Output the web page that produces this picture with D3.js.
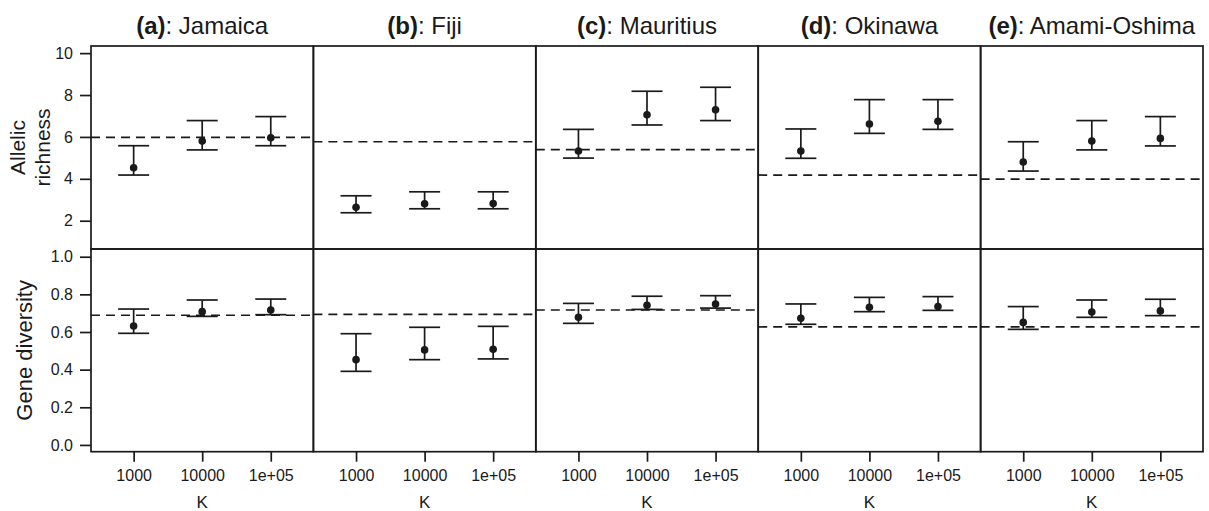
<!DOCTYPE html>
<html>
<head>
<meta charset="utf-8">
<script src="https://cdn.jsdelivr.net/npm/d3@7"></script>
<style>
  body { margin: 0; background: #fff; }
  text { font-family: "Liberation Sans", Arial, sans-serif; fill: #1a1a1a; }
</style>
</head>
<body>
<div id="chart"></div>
<script>
// panels and K levels
const letters = ["a", "b", "c", "d", "e"];
const islands = ["Jamaica", "Fiji", "Mauritius", "Okinawa", "Amami-Oshima"];
const kLevels = ["1000", "10000", "1e+05"];

// allelic richness: estimate, lower, upper, observed (dashed)
const arMean = [[4.53, 5.80, 5.96], [2.64, 2.81, 2.82], [5.33, 7.06, 7.30], [5.33, 6.62, 6.75], [4.80, 5.80, 5.93]];
const arLow  = [[4.18, 5.38, 5.58], [2.38, 2.57, 2.57], [4.99, 6.57, 6.78], [4.98, 6.17, 6.36], [4.37, 5.38, 5.57]];
const arHigh = [[5.58, 6.78, 6.97], [3.19, 3.38, 3.38], [6.36, 8.18, 8.37], [6.38, 7.78, 7.78], [5.77, 6.78, 6.97]];
const arObs  = [5.98, 5.77, 5.39, 4.18, 3.99];

// gene diversity: estimate, lower, upper, observed (dashed)
const gdMean = [[0.632, 0.708, 0.717], [0.453, 0.505, 0.508], [0.678, 0.742, 0.749], [0.673, 0.731, 0.735], [0.651, 0.706, 0.712]];
const gdLow  = [[0.593, 0.683, 0.692], [0.391, 0.453, 0.457], [0.646, 0.720, 0.727], [0.641, 0.708, 0.715], [0.614, 0.678, 0.687]];
const gdHigh = [[0.722, 0.770, 0.775], [0.591, 0.625, 0.630], [0.752, 0.790, 0.793], [0.749, 0.784, 0.788], [0.735, 0.770, 0.774]];
const gdObs  = [0.689, 0.694, 0.717, 0.627, 0.627];

const arTicks = [2, 4, 6, 8, 10];
const gdTicks = [0, 0.2, 0.4, 0.6, 0.8, 1.0];

const width = 1209, height = 511;
const plotLeft = 91, plotRight = 1203, plotTop = 46, plotMid = 249, plotBottom = 451.7;
const ink = "#1a1a1a";

const svg = d3.select("#chart").append("svg")
    .attr("width", width)
    .attr("height", height)
    .attr("viewBox", [0, 0, width, height]);

const panelX = d3.scaleBand(d3.range(islands.length), [plotLeft, plotRight]);
const pw = panelX.bandwidth();
const kX = d3.scalePoint(kLevels, [0, pw]).padding(0.622);

const yAR = d3.scaleLinear([0.65, 10.34], [plotMid, plotTop]);
const yGD = d3.scaleLinear([-0.036, 1.041], [plotBottom, plotMid]);

const rows = [
  {y: yAR, mean: arMean, low: arLow, high: arHigh, obs: arObs},
  {y: yGD, mean: gdMean, low: gdLow, high: gdHigh, obs: gdObs}
];

const capHalf = 15.5;

islands.forEach((name, p) => {
  const g = svg.append("g").attr("transform", `translate(${panelX(p)},0)`);

  rows.forEach(r => {
    const [y0, y1] = r.y.range();
    // observed value
    g.append("line")
      .attr("x1", 0).attr("x2", pw)
      .attr("y1", r.y(r.obs[p])).attr("y2", r.y(r.obs[p]))
      .attr("stroke", ink)
      .attr("stroke-width", 1.7)
      .attr("stroke-dasharray", "9,6");

    const bars = g.append("g")
        .attr("stroke", ink)
        .attr("stroke-width", 1.7)
      .selectAll("g")
      .data(kLevels)
      .join("g")
        .attr("transform", k => `translate(${kX(k)},0)`);

    bars.append("line")
      .attr("y1", (k, i) => r.y(r.low[p][i]))
      .attr("y2", (k, i) => r.y(r.high[p][i]));
    bars.append("line")
      .attr("x1", -capHalf).attr("x2", capHalf)
      .attr("y1", (k, i) => r.y(r.high[p][i]))
      .attr("y2", (k, i) => r.y(r.high[p][i]));
    bars.append("line")
      .attr("x1", -capHalf).attr("x2", capHalf)
      .attr("y1", (k, i) => r.y(r.low[p][i]))
      .attr("y2", (k, i) => r.y(r.low[p][i]));
    bars.append("circle")
      .attr("cy", (k, i) => r.y(r.mean[p][i]))
      .attr("r", 3.8)
      .attr("fill", ink)
      .attr("stroke", "none");

    // panel frame
    g.append("rect")
      .attr("x", 0).attr("y", y1)
      .attr("width", pw).attr("height", y0 - y1)
      .attr("fill", "none")
      .attr("stroke", ink)
      .attr("stroke-width", 1.7);
  });

  // strip title
  const t = g.append("text")
      .attr("x", pw / 2)
      .attr("y", 33.5)
      .attr("text-anchor", "middle")
      .attr("font-size", 24);
  t.append("tspan").attr("font-weight", "bold").text(`(${letters[p]})`);
  t.append("tspan").text(`: ${name}`);

  // K axis
  g.append("g")
      .attr("transform", `translate(0,${plotBottom})`)
      .call(d3.axisBottom(kX).tickSize(10).tickPadding(8))
      .call(a => a.select(".domain").remove())
      .call(a => a.selectAll(".tick line").attr("stroke", ink).attr("stroke-width", 1.7))
      .call(a => a.selectAll(".tick text").attr("font-size", 16).attr("font-family", null).attr("fill", ink));

  g.append("text")
      .attr("x", pw / 2)
      .attr("y", 508)
      .attr("text-anchor", "middle")
      .attr("font-size", 17)
      .text("K");
});

// y axes
svg.append("g")
    .attr("transform", `translate(${plotLeft},0)`)
    .call(d3.axisLeft(yAR).tickValues(arTicks).tickFormat(d3.format("d")).tickSize(11).tickPadding(7))
    .call(a => a.select(".domain").remove())
    .call(a => a.selectAll(".tick line").attr("stroke", ink).attr("stroke-width", 1.7))
    .call(a => a.selectAll(".tick text").attr("font-size", 16).attr("font-family", null).attr("fill", ink));

svg.append("g")
    .attr("transform", `translate(${plotLeft},0)`)
    .call(d3.axisLeft(yGD).tickValues(gdTicks).tickFormat(d3.format(".1f")).tickSize(11).tickPadding(7))
    .call(a => a.select(".domain").remove())
    .call(a => a.selectAll(".tick line").attr("stroke", ink).attr("stroke-width", 1.7))
    .call(a => a.selectAll(".tick text").attr("font-size", 16).attr("font-family", null).attr("fill", ink));

// y labels
const arMid = (plotTop + plotMid) / 2;
const yl = svg.append("text")
    .attr("transform", `translate(0,${arMid}) rotate(-90)`)
    .attr("text-anchor", "middle")
    .attr("font-size", 21);
yl.append("tspan").attr("x", 0).attr("y", 25).text("Allelic");
yl.append("tspan").attr("x", 0).attr("y", 50).text("richness");

svg.append("text")
    .attr("transform", `translate(32,${(plotMid + plotBottom) / 2}) rotate(-90)`)
    .attr("text-anchor", "middle")
    .attr("font-size", 22)
    .text("Gene diversity");
</script>
</body>
</html>
